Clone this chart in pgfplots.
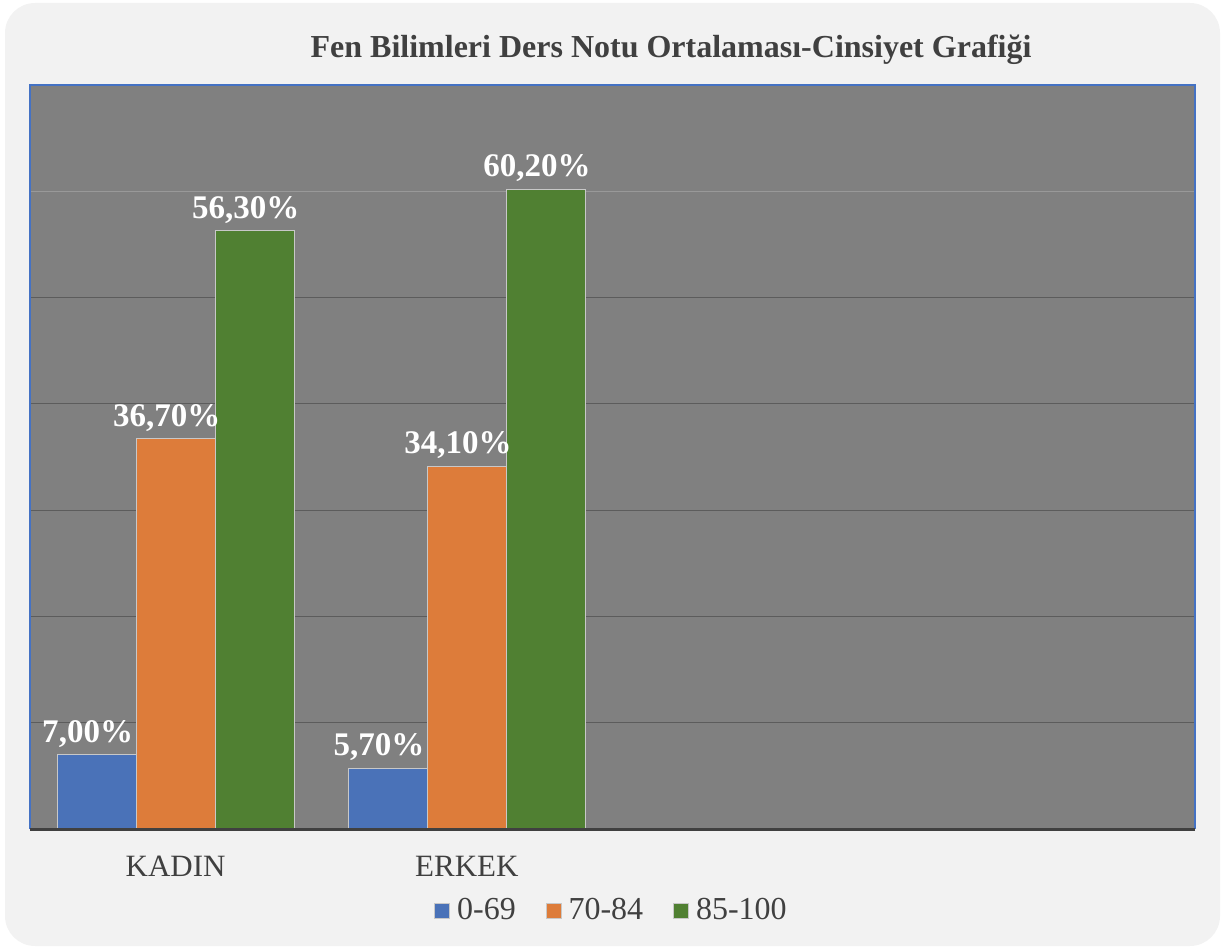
\documentclass[border=0pt]{standalone}
\usepackage{fontspec}
\setmainfont{Liberation Serif}
\usepackage{pgfplots}
\pgfplotsset{compat=1.18}
\definecolor{bgc}{HTML}{F2F2F2}
\definecolor{plotc}{HTML}{808080}
\definecolor{titc}{HTML}{404040}
\definecolor{labc}{HTML}{404040}
\definecolor{gridc}{HTML}{5C5C5C}
\definecolor{gridl}{HTML}{999999}
\definecolor{borderc}{HTML}{4472C4}
\definecolor{axc}{HTML}{404040}
\definecolor{blueb}{HTML}{4A72B8}
\definecolor{orangeb}{HTML}{DD7C3A}
\definecolor{greenb}{HTML}{508032}
\definecolor{edgec}{HTML}{C8C8C8}
\begin{document}
\begin{tikzpicture}
\path (0,0) rectangle (612.5pt,474.5pt);
\fill[bgc, rounded corners=15pt] (2.5pt,1.5pt) rectangle (610pt,473pt);
\node[font=\bfseries\fontsize{16}{19}\selectfont, text=titc] at (335.5pt,449.5pt) {Fen Bilimleri Ders Notu Ortalaması-Cinsiyet Grafiği};
\begin{axis}[
  at={(15pt,60pt)}, anchor=south west,
  scale only axis, width=582.5pt, height=372pt,
  ybar=0pt, bar width=39.5pt,
  xmin=-0.5, xmax=3.5, ymin=0, ymax=70,
  xtick={0,1}, xticklabels={KADIN,ERKEK},
  ytick={10,20,30,40,50}, yticklabels={},
  extra y ticks={60}, extra y tick labels={},
  extra y tick style={grid style={gridl, line width=0.6pt}},
  ymajorgrids, grid style={gridc, line width=0.6pt},
  major tick length=0pt,
  axis line style={draw=none},
  axis background/.style={fill=plotc},
  xticklabel style={font=\fontsize{15.5}{18}\selectfont, text=labc, yshift=-10pt},
  /pgf/number format/assume math mode=true,
  nodes near coords={\pgfmathprintnumber[fixed,fixed zerofill,precision=2,use comma]{\pgfplotspointmeta}\%},
  every node near coord/.append style={font=\bfseries\fontsize{16.5}{19}\selectfont, text=white, xshift=-4.5pt, inner sep=3.5pt},
  legend image code/.code={\draw[#1, line width=0.4pt] (0pt,-3.75pt) rectangle (7.5pt,3.75pt);},
  legend style={at={(0.5,-0.11)}, anchor=center, draw=none, fill=none,
    legend columns=-1, font=\fontsize{16}{19}\selectfont, text=labc,
    /tikz/every odd column/.append style={column sep=1.5pt},
    /tikz/every even column/.append style={column sep=13pt}},
  clip=false,
]
\addplot[fill=blueb, draw=edgec, line width=0.5pt] coordinates {(0,7.0) (1,5.7)};
\addplot[fill=orangeb, draw=edgec, line width=0.5pt] coordinates {(0,36.7) (1,34.1)};
\addplot[fill=greenb, draw=edgec, line width=0.5pt] coordinates {(0,56.3) (1,60.2)};
\legend{0-69,70-84,85-100}
\draw[borderc, line width=0.8pt] (rel axis cs:0,0) -- (rel axis cs:0,1) -- (rel axis cs:1,1) -- (rel axis cs:1,0);
\draw[axc, line width=1.5pt] (rel axis cs:0,0) -- (rel axis cs:1,0);
\end{axis}
\end{tikzpicture}
\end{document}
